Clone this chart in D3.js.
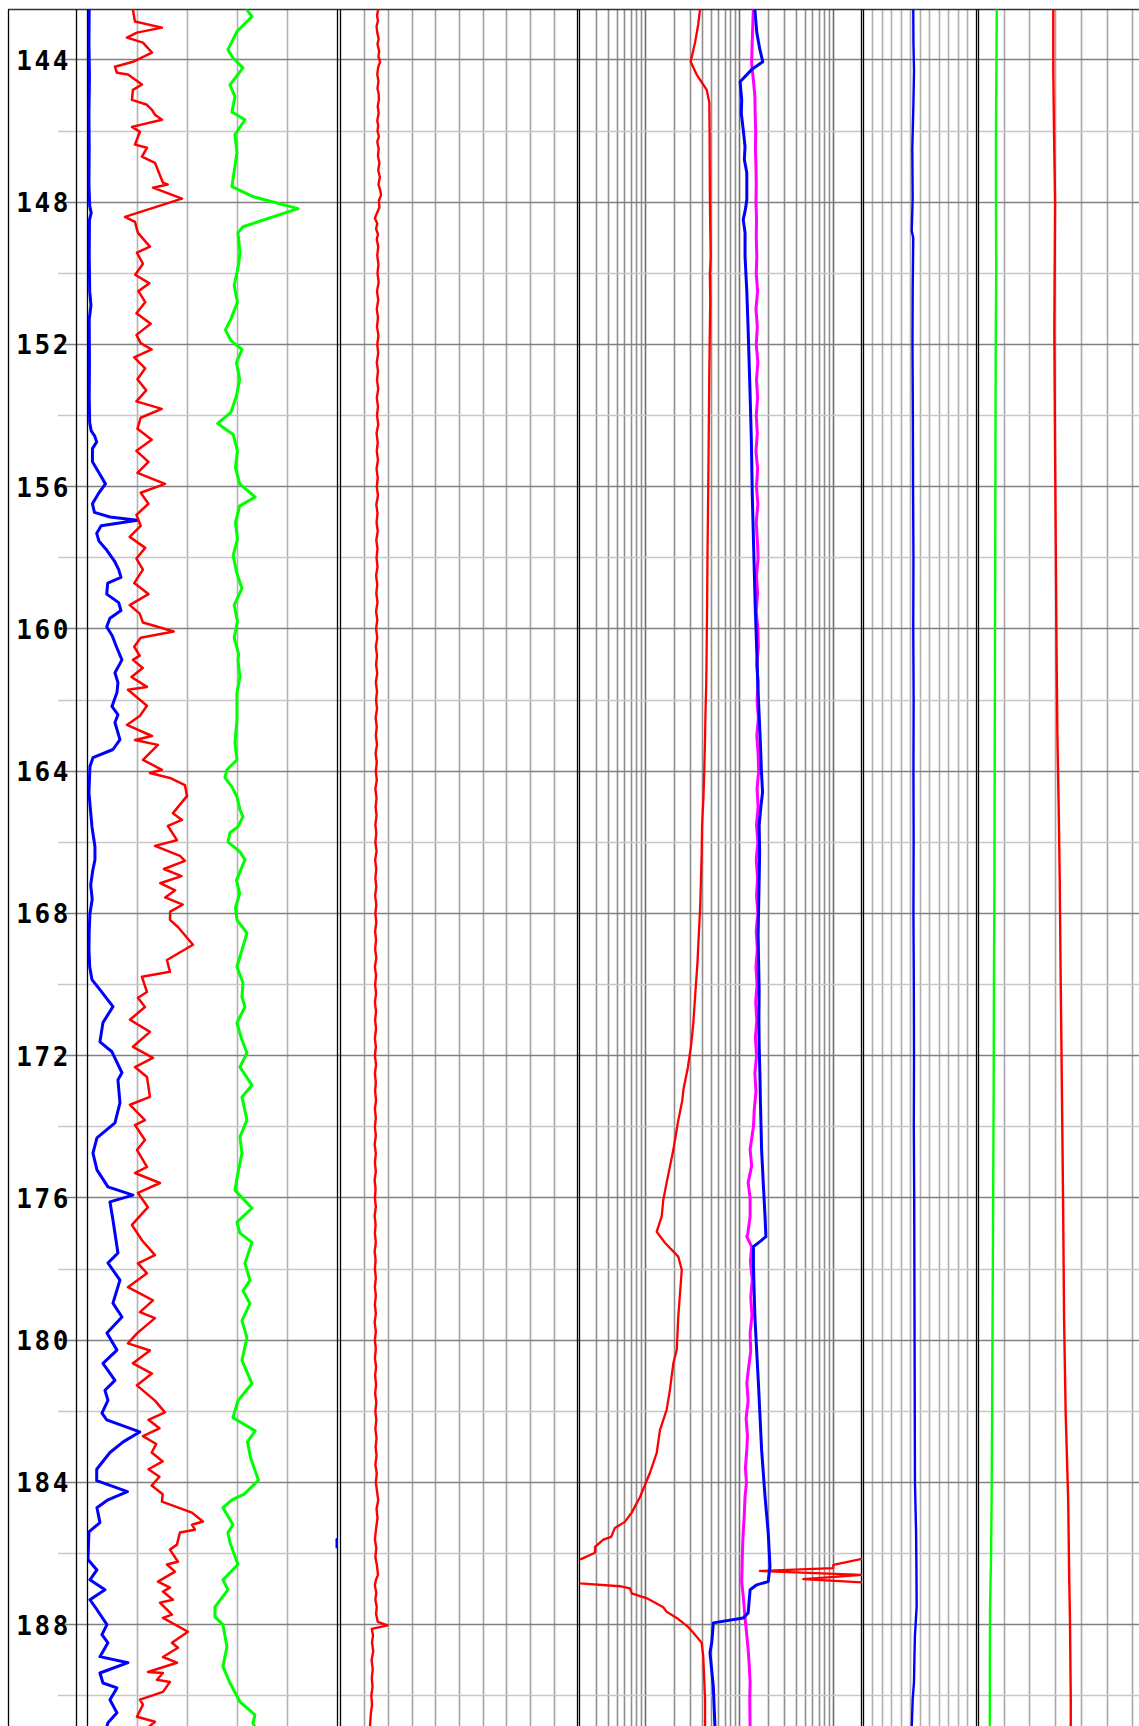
<!DOCTYPE html>
<html><head><meta charset="utf-8">
<script src="https://cdn.jsdelivr.net/npm/d3@7"></script>
<style>html,body{margin:0;padding:0;background:#fff;overflow:hidden}</style>
</head><body>
<svg id="chart" width="1139" height="1726"></svg>
<script>
// ---------------- DATA (depth in m, value in track units) ----------------
const depthRange = [142.58, 190.85];
const depthLabels = [144,148,152,156,160,164,168,172,176,180,184,188];
const minorDepths = [146,150,154,158,162,166,170,174,178,182,186,190];

const t1Ticks = [0,20,40,60,80,100];
const t2Ticks = [0,10,20,30,40,50,60,70,80,90,100];
const t3Ticks = [0.2,0.3,0.4,0.5,0.6,0.7,0.8,0.9,1,2,3,4,5,6,7,8,9,10,20,30,40,50,60,70,80,90,100,200];
const t3Decades = [1,10,100];
const t4Ticks = [0,5,10,15,20,25,30,35,40,45,50,55,60];
const t5Ticks = [0,10,20,30,40,50,60,70,80,90,100];

// Track 1
const t1Blue = [[142.58,0.6],[143.5,0.5],[144.5,0.7],[145.5,0.5],[146.5,0.6],[147.5,0.5],[148.1,0.8],[148.3,1.4],[148.5,0.7],[149.5,0.6],[150.5,0.8],[150.9,1.3],[151.3,0.6],[152.5,0.7],[153.5,0.6],[154.2,0.8],
[154.43,1.4],[154.56,2.7],[154.74,3.6],[154.93,1.9],[155.30,1.9],[155.61,4.5],[155.92,7.1],[156.17,4.5],[156.48,1.9],[156.72,2.7],[156.85,8.9],[156.94,19.9],[157.10,5.4],[157.31,3.6],[157.53,4.5],[157.78,7.6],[158.09,10.7],[158.33,12.4],[158.55,13.3],[158.71,8.0],[159.02,7.6],[159.26,12.4],[159.48,13.3],[159.70,8.9],[159.94,7.6],[160.19,9.8],[160.50,11.5],
[160.87,13.7],[161.23,10.9],[161.51,12.1],[161.79,11.7],[162.18,9.7],[162.41,12.1],[162.63,10.9],[163.11,12.9],[163.39,10.1],[163.62,2.1],[163.87,0.9],[164.60,0.5],[165.56,1.7],[166.12,2.9],[166.49,2.9],[166.8,2.0],[167.2,1.2],[167.6,1.8],[168.0,0.9],[168.5,0.6],[169.0,0.5],[169.5,0.8],[169.86,1.7],[170.2,5.5],
[170.62,10.1],[171.07,6.1],[171.61,4.9],[171.89,9.7],[172.48,13.7],[172.68,12.1],[173.33,12.9],[173.89,10.9],[174.31,3.7],[174.74,2.1],[175.21,3.7],[175.69,8.1],[175.92,18.1],[176.11,8.9],[176.62,10.1],[177.55,12.1],[177.83,8.1],[178.31,12.9],[178.96,10.1],[179.35,13.7],[179.80,7.7],[180.28,11.7],[180.65,6.1],[181.13,10.9],[181.41,6.9],[181.69,8.1],[182.05,5.7],
[182.24,7.6],[182.58,20.8],[182.86,14.2],[183.16,8.9],[183.63,3.6],[183.95,3.6],[184.26,15.9],
[184.49,8.1],[184.71,3.7],[185.13,4.9],[185.39,0.5],[186.17,0.1],[186.46,3.7],[186.74,0.9],[187.02,6.9],[187.30,0.9],[187.58,3.7],[188.00,7.7],[188.28,5.7],[188.51,8.1],[188.90,4.9],[189.07,16.1],[189.36,4.9],[189.64,6.1],[189.78,11.7],[190.11,8.9],[190.48,11.7],[190.76,8.1],[190.9,7.5]];

const t1BlueEdge = [[185.60,99.6],[185.82,99.6]];

const t1Red = [[142.59,18.1],[142.92,18.9],[143.09,29.7],[143.23,19.7],[143.37,15.7],[143.51,22.1],[143.79,25.7],[144.05,18.1],[144.19,10.9],[144.36,11.7],[144.41,16.1],[144.69,21.7],[144.84,18.1],[145.12,17.7],[145.26,23.7],[145.40,25.7],[145.54,26.9],[145.68,29.7],[145.88,17.7],[146.02,20.9],[146.38,18.9],[146.47,23.7],[146.72,21.7],[146.89,26.9],[147.45,30.1],[147.50,32.0],[147.59,26.1],[147.90,37.7],[148.41,14.9],[148.55,18.9],[148.86,20.1],[149.25,24.9],[149.42,19.7],
[149.73,22.1],[150.04,19.0],[150.28,24.7],[150.50,20.3],[150.81,23.0],[151.12,19.5],[151.42,25.2],[151.73,19.5],[151.96,21.2],[152.14,25.6],[152.36,18.6],[152.67,23.0],[152.98,19.9],[153.29,23.4],[153.60,19.5],[153.81,29.6],[154.06,21.2],[154.37,19.9],[154.68,25.6],[154.99,19.5],[155.30,24.3],[155.61,19.9],[155.92,30.9],[156.17,21.2],[156.48,24.3],[156.79,19.5],[157.10,21.2],[157.41,16.8],[157.72,23.0],[158.02,19.5],[158.33,22.1],[158.71,18.6],[159.02,24.3],[159.33,16.8],[159.57,20.8],[159.82,22.1],[160.07,34.4],[160.25,21.2],[160.50,18.6],[160.75,20.8],
[160.87,18.1],[161.1,22.0],[161.35,17.5],[161.63,23.7],[161.71,16.1],[162.16,23.7],[162.44,20.9],[162.70,15.7],[163.01,25.7],[163.12,18.9],[163.26,28.1],[163.68,22.1],[163.96,29.7],[164.05,24.9],[164.19,32.9],[164.39,38.9],[164.70,39.7],[165.18,34.1],[165.37,37.7],[165.54,32.1],[165.94,35.7],[166.10,26.9],[166.38,36.9],[166.52,38.9],
[166.75,30.5],[166.95,37.5],[167.15,29.0],[167.35,35.0],[167.55,31.0],[167.75,38.0],[167.95,33.0],
[168.18,32.9],[168.38,36.1],[168.88,42.1],[169.31,31.7],[169.64,32.9],[169.78,21.7],[170.21,23.7],[170.37,20.1],[170.63,22.9],[170.99,16.9],[171.33,24.9],[171.75,18.1],[172.06,26.1],[172.32,18.9],[172.60,23.7],[173.16,24.9],[173.38,16.9],[173.81,22.9],[173.95,18.9],[174.37,22.9],[174.65,19.7],[175.13,23.7],[175.30,18.9],[175.58,28.9],[175.86,20.1],[176.26,24.1],[176.76,17.7],[177.19,21.7],[177.61,26.9],[177.84,20.1],[178.12,23.7],[178.51,16.1],[178.88,26.1],[179.21,20.9],[179.38,26.9],[179.81,19.7],[180.09,16.1],[180.29,24.9],[180.65,18.1],[180.94,25.7],[181.27,19.7],[181.70,26.9],[182.03,30.9],
[182.24,24.3],[182.48,28.7],[182.70,22.1],[182.92,27.4],[183.16,25.6],[183.41,30.0],[183.63,24.3],[183.84,28.7],[184.09,25.6],[184.33,30.0],
[184.54,29.7],[184.85,41.7],[185.10,46.1],[185.19,41.7],[185.33,42.9],[185.41,36.9],[185.75,35.7],[185.89,32.9],[186.23,36.1],[186.31,31.7],[186.51,34.9],[186.79,28.1],[186.96,32.9],[187.07,30.1],[187.30,34.1],[187.38,28.9],[187.72,33.7],[187.81,30.1],[188.20,40.1],[188.51,33.7],[188.65,36.1],[188.91,30.1],[189.07,35.7],[189.33,24.1],[189.36,30.1],[189.55,27.7],[189.61,32.9],[189.89,30.1],[190.11,20.9],[190.25,22.1],[190.59,19.7],[190.73,26.9],[190.9,24.0]];

const t1Green = [[142.59,63.7],[142.78,65.7],[143.20,59.7],[143.71,56.1],[143.94,58.1],[144.22,62.1],[144.70,56.9],[145.03,58.9],[145.46,57.7],[145.68,62.9],[146.10,58.9],[146.61,59.7],[147.56,57.7],[147.84,66.1],[148.18,84.1],[148.69,62.1],[148.86,60.1],[149.42,60.9],
[149.73,60.4],[150.35,58.6],[150.81,59.9],[151.28,57.3],[151.59,55.1],[151.89,57.3],[152.14,61.7],[152.51,59.5],[152.98,60.8],[153.44,59.5],[153.91,57.3],[154.22,52.0],[154.53,58.2],[154.99,59.9],[155.46,59.1],[155.92,60.8],[156.29,67.0],[156.54,60.8],[157.00,59.1],[157.47,59.9],[157.93,58.2],[158.40,59.5],[158.86,61.7],[159.33,58.6],[159.79,59.9],[160.25,58.6],[160.72,60.4],
[160.87,60.1],[161.35,60.9],[161.79,59.7],[162.55,59.7],[163.20,58.9],[163.68,59.7],[163.96,55.7],[164.18,54.9],[164.44,57.7],[164.72,59.7],[165.08,60.9],[165.28,62.1],[165.56,60.1],[165.73,56.9],[165.99,56.1],[166.27,60.9],[166.49,62.9],
[166.76,61.3],[167.07,59.5],[167.44,60.8],[167.84,59.1],
[168.18,59.7],[168.55,63.7],[169.03,61.7],[169.50,59.7],[169.95,62.1],[170.35,61.7],[170.63,62.9],[171.08,59.7],[171.56,61.7],[171.92,63.7],[172.32,60.9],[172.83,65.7],[173.16,61.7],[173.81,63.7],[174.29,60.9],[174.74,61.7],[175.30,60.1],[175.78,58.9],[176.29,65.7],[176.68,59.7],[176.99,60.9],[177.25,65.7],[177.84,62.9],[178.32,64.9],[178.61,62.1],[178.97,64.9],[179.45,61.7],[179.93,63.7],[180.57,61.7],[181.22,65.7],[181.70,60.1],[182.18,58.1],
[182.55,67.0],[182.86,63.9],[183.32,65.2],[183.94,68.3],[184.33,62.6],
[184.49,57.7],[184.71,54.1],[185.19,58.1],[185.41,56.1],[185.69,56.9],[186.31,60.1],[186.74,54.1],[187.02,56.1],[187.50,50.9],[187.78,50.9],[188.00,54.1],[188.62,55.7],[189.18,54.1],[189.64,56.9],[190.17,60.9],[190.54,66.9],[190.76,66.1],[190.9,67.0]];

// Track 2
const t2Red = [[142.58,15.7],[142.75,15.2],[142.9,15.6],[143.05,15.0],[143.23,15.3],[143.4,15.9],[143.55,15.4],[143.75,16.1],[143.9,15.8],[144.05,16.5],[144.2,15.7],[144.4,15.3],[144.6,15.8],[144.8,15.4],[144.95,15.9],[145.12,16.0],[145.3,15.5],[145.5,15.9],[145.7,15.3],[145.85,15.7],[146.0,15.4],[146.15,16.0],[146.3,15.3],[146.5,15.9],[146.7,15.6],[146.9,16.2],[147.1,15.7],[147.3,16.4],[147.5,15.8],[147.65,16.5],[147.8,16.9],[147.95,16.0],[148.15,16.2],[148.3,15.2],[148.45,14.3],[148.6,15.3],[148.75,14.8],[148.9,15.6],[149.05,15.1],[149.25,15.7],[149.5,15.3],[149.75,15.8],[150.0,15.4],[150.25,15.9],[150.5,15.2],[150.75,15.7],[151.0,15.1],[151.25,15.6],[151.5,15.2],[151.75,15.8],[152.0,15.3],[152.25,15.7],[152.5,15.1],[152.75,15.6],[153.0,15.2],[153.25,15.7],[153.5,15.1],[153.75,15.6],[154.0,15.2],[154.25,15.7],[154.5,15.0],[154.75,15.5],[155.0,15.1],[155.25,15.6],[155.5,15.0],[155.75,15.5],[156.0,15.1],[156.25,15.6],[156.5,14.9],[156.75,15.4],[157.0,15.0],[157.25,15.5],[157.5,14.9],[157.75,15.4],[158.0,15.0],[158.25,15.4],[158.5,14.8],[158.75,15.3],[159.0,14.9],[159.25,15.4],[159.5,14.8],[159.75,15.3],[160.0,14.8],[160.25,15.3],[160.5,14.7],[160.75,15.2],[161.0,14.8],[161.25,15.3],[161.5,14.7],[161.75,15.2],[162.0,14.8],[162.25,15.2],[162.5,14.6],[162.75,15.1],[163.0,14.7],[163.25,15.2],[163.5,14.6],[163.75,15.1],[164.0,14.7],[164.25,15.1],[164.5,14.5],[164.75,15.0],[165.0,14.6],[165.25,15.0],[165.5,14.5],[165.75,14.9],[166.0,14.5],[166.25,15.0],[166.5,14.4],[166.75,14.9],[167.0,14.5],[167.25,14.9],[167.5,14.4],[167.75,14.9],[168.0,14.5],[168.25,14.9],[168.5,14.4],[168.75,14.8],[169.0,14.4],[169.25,14.9],[169.5,14.3],[169.75,14.8],[170.0,14.4],[170.25,14.8],[170.5,14.3],[170.75,14.8],[171.0,14.4],[171.25,14.8],[171.5,14.3],[171.75,14.7],[172.0,14.3],[172.25,14.8],[172.5,14.3],[172.75,14.7],[173.0,14.4],[173.25,14.8],[173.5,14.3],[173.75,14.7],[174.0,14.3],[174.25,14.7],[174.5,14.2],[174.75,14.7],[175.0,14.3],[175.25,14.7],[175.5,14.2],[175.75,14.6],[176.0,14.3],[176.25,14.7],[176.5,14.2],[176.75,14.6],[177.0,14.3],[177.25,14.7],[177.5,14.2],[177.75,14.6],[178.0,14.3],[178.25,14.7],[178.5,14.3],[178.75,14.7],[179.0,14.3],[179.25,14.7],[179.5,14.2],[179.75,14.7],[180.0,14.3],[180.25,14.7],[180.5,14.3],[180.75,14.8],[181.0,14.4],[181.25,14.8],[181.5,14.4],[181.75,14.9],[182.0,14.5],[182.25,14.9],[182.5,14.5],[182.75,15.0],[183.0,14.6],[183.25,15.0],[183.5,14.5],[183.75,15.1],[184.0,14.7],[184.25,15.2],[184.5,15.7],[184.75,15.0],[185.0,15.4],[185.3,14.8],[185.6,14.3],[185.85,14.9],[186.1,14.5],[186.35,15.2],[186.6,15.6],[186.75,14.7],[186.9,14.3],[187.1,14.9],[187.3,14.5],[187.5,15.1],[187.7,14.8],[187.92,15.5],[188.02,19.6],[188.12,13.0],[188.3,13.5],[188.5,13.1],[188.75,13.6],[189.0,12.9],[189.25,13.4],[189.5,13.0],[189.75,13.3],[190.0,12.8],[190.25,13.1],[190.5,12.6],[190.9,12.2]];

// Track 3 (logarithmic)
const t3Red = [[142.58,3.78],[143.0,3.62],[143.51,3.35],[144.05,3.01],[144.41,3.48],[144.84,4.46],[145.2,4.75],[146.0,4.78],[147.0,4.80],[147.93,4.82],[148.7,4.86],[149.53,4.91],[150.04,4.81],[150.8,4.86],[151.59,4.81],[153.0,4.74],[154.68,4.68],[156.2,4.62],[157.78,4.55],[159.3,4.50],[160.87,4.44],[161.6,4.40],[162.42,4.32],[163.2,4.27],[163.97,4.20],[164.7,4.12],[165.52,3.98],[166.3,3.94],[167.07,3.87],[167.8,3.80],[168.61,3.67],[169.4,3.55],[170.16,3.39],[171.09,3.21],[171.71,3.04],[172.33,2.81],[172.95,2.52],[173.26,2.45],[173.88,2.20],[174.64,1.97],[175.12,1.81],[175.57,1.67],[176.05,1.54],[176.52,1.48],[176.95,1.31],[177.26,1.60],[177.65,2.22],[178.02,2.42],[178.67,2.32],[179.34,2.22],[180.27,2.14],[180.64,1.97],[181.40,1.81],[181.96,1.67],[182.52,1.42],[183.17,1.31],[183.73,1.11],[184.41,0.87],[184.85,0.71],[185.11,0.60],[185.28,0.47],[185.53,0.43],[185.61,0.354],[185.81,0.289],[185.98,0.289],[186.15,0.208],[186.30,0.12],[186.60,0.10],[186.84,0.20],[186.92,0.53],[186.98,0.68],[187.12,0.71],[187.26,1.03],[187.51,1.54],[187.64,1.67],[187.81,2.14],[188.07,2.84],[188.23,3.21],[188.51,3.94],[188.91,4.10],[190.11,4.28],[190.9,4.28]];

const t3RedDeep = [[186.05,2000],[186.15,200],[186.32,99],[186.41,99],[186.49,16.4],[186.60,200],[186.72,47.5],[186.81,200],[186.9,2000]];

const t3Blue = [[142.58,14.5],[143.23,15.2],[143.71,16.4],[144.05,17.6],[144.27,13.4],[144.61,10.1],[145.12,10.5],[145.5,10.4],[145.96,10.9],[146.44,11.4],[146.8,11.2],[147.17,11.9],[147.93,11.9],[148.2,11.5],[148.49,10.9],[148.86,11.4],[149.53,11.4],[150.5,11.9],[151.59,12.3],[153.1,12.8],[154.68,13.3],[156.2,13.6],[157.78,14.1],[159.3,14.6],[160.87,15.3],[161.6,15.6],[162.42,16.1],[163.2,16.6],[163.97,17.0],[164.59,17.5],[165.0,16.8],[165.52,16.1],[166.3,16.3],[167.07,16.1],[167.8,15.9],[168.61,15.7],[169.4,15.9],[170.16,16.1],[171.0,16.0],[171.71,16.1],[172.5,16.4],[173.26,16.6],[174.64,17.1],[175.57,17.8],[176.52,18.6],[177.09,19.0],[177.23,16.4],[177.37,14.0],[177.93,14.0],[179.34,14.5],[181.19,15.8],[183.08,17.1],[184.40,18.6],[185.41,20.1],[186.37,21.0],[186.79,20.1],[186.88,15.2],[187.02,12.9],[187.67,12.3],[187.81,10.9],[187.95,5.24],[188.51,5.04],[188.79,4.83],[189.74,5.24],[190.9,5.46]];

const t3Magenta = [[142.58,13.96],[143.2,13.7],[143.71,13.5],[144.1,13.4],[144.5,13.9],[145.0,14.5],[145.5,14.6],[146.0,14.8],[146.5,14.7],[147.0,14.9],[147.5,15.0],[148.0,14.9],[148.5,15.1],[149.0,15.0],[149.53,15.2],[150.0,15.0],[150.5,15.5],[151.0,14.9],[151.5,15.4],[152.0,15.0],[152.5,15.6],[153.0,15.1],[153.5,15.5],[154.0,15.0],[154.5,15.4],[155.0,14.9],[155.5,15.5],[156.0,15.1],[156.5,15.6],[157.0,15.0],[157.5,15.4],[158.0,15.7],[158.5,15.1],[159.0,15.5],[159.5,15.0],[160.0,15.6],[160.5,15.8],[161.0,15.2],[161.5,15.7],[162.0,15.3],[162.5,15.8],[163.0,15.2],[163.5,15.7],[164.0,15.9],[164.5,15.3],[165.0,15.7],[165.5,15.1],[166.0,15.6],[166.5,15.0],[167.0,15.5],[167.5,15.1],[168.0,15.6],[168.5,15.0],[169.0,15.4],[169.5,14.9],[170.0,15.3],[170.5,14.8],[171.0,15.2],[171.5,14.7],[172.0,15.1],[172.5,14.5],[173.0,14.9],[173.5,14.3],[174.0,14.0],[174.64,12.9],[175.1,13.4],[175.57,12.3],[176.0,12.9],[176.52,12.9],[177.0,12.2],[177.09,11.9],[177.37,13.4],[177.8,13.0],[178.3,13.6],[178.8,13.1],[179.3,13.5],[179.8,12.9],[180.3,13.1],[180.8,12.4],[181.2,11.9],[181.7,12.3],[182.2,11.7],[182.7,12.1],[183.08,11.9],[183.6,11.5],[184.0,11.8],[184.4,11.4],[184.9,11.2],[185.4,10.9],[185.9,10.7],[186.4,10.6],[186.8,10.5],[187.2,10.9],[187.8,11.4],[188.3,11.9],[188.7,12.3],[189.1,12.6],[189.6,12.9],[190.1,12.8],[190.9,12.9]];

// Track 4
const t4Blue = [[142.58,26.3],[143.5,26.4],[144.3,26.7],[145.2,26.4],[146.5,25.8],[147.9,26.0],[148.8,25.5],[149.0,26.3],[150.5,26.0],[152.0,25.9],[154.0,26.1],[156.0,26.2],[158.0,26.4],[160.0,26.3],[162.0,26.5],[164.0,26.4],[166.0,26.5],[168.0,26.4],[170.0,26.6],[172.0,26.7],[174.0,26.6],[176.0,26.8],[178.0,26.9],[180.0,27.0],[182.0,27.1],[184.0,27.2],[185.4,27.8],[186.5,28.0],[187.5,28.1],[188.3,27.2],[189.0,26.9],[189.6,26.7],[190.1,26.0],[190.9,25.5]];

// Track 5
const t5Green = [[142.58,7.1],[144.0,7.0],[146.0,6.8],[148.0,6.8],[150.0,6.9],[152.0,6.7],[155.0,6.6],[158.0,6.5],[161.0,6.4],[164.0,6.3],[167.0,6.2],[170.0,6.0],[173.0,5.9],[176.0,5.7],[179.0,5.5],[182.0,5.3],[184.5,5.1],[186.0,4.9],[187.5,4.5],[189.0,4.4],[190.9,4.4]];
const t5Red = [[142.58,29.1],[144.3,29.1],[146.1,29.4],[148.0,29.8],[151.6,29.5],[155.0,29.8],[158.0,30.1],[160.9,30.4],[163.0,30.7],[165.0,31.2],[167.0,31.6],[170.0,32.0],[173.3,32.5],[176.0,32.9],[179.4,33.3],[182.0,33.9],[184.5,34.9],[186.7,35.3],[187.9,35.6],[190.1,35.9],[190.9,35.9]];

// ---------------- LAYOUT ----------------
const W = 1139, H = 1726, TOP = 9.5;
const svg = d3.select('#chart');
const y = d3.scaleLinear().domain(depthRange).range([TOP, H]);
const snap = v => Math.round(v - 0.5) + 0.5;

const tracks = [
  {id:'t1', x0:87.7, x1:337.7, bx0:87.5, bx1:337.5, scale:d3.scaleLinear().domain([0,100]), ticks:t1Ticks, grid:'#b3b3b3'},
  {id:'t2', x0:341, x1:578, bx0:340.5, bx1:577.5, scale:d3.scaleLinear().domain([0,100]), ticks:t2Ticks, grid:'#a3a3a3'},
  {id:'t3', x0:580, x1:862, bx0:579.5, bx1:861.5, scale:d3.scaleLog().domain([0.2,200]), ticks:t3Ticks, grid:'#8f8f8f'},
  {id:'t4', x0:863.5, x1:977, bx0:863.5, bx1:976.5, scale:d3.scaleLinear().domain([0,60]), ticks:t4Ticks, grid:'#b0b0b0'},
  {id:'t5', x0:978.5, x1:1235.5, bx0:978.5, bx1:1235.5, scale:d3.scaleLinear().domain([0,100]), ticks:t5Ticks, grid:'#a8a8a8'}
];
tracks.forEach(t => t.scale.range([t.x0, t.x1]));
const T = Object.fromEntries(tracks.map(t=>[t.id,t]));

const defs = svg.append('defs');
tracks.forEach(t => {
  defs.append('clipPath').attr('id','clip-'+t.id)
    .append('rect').attr('x',t.x0).attr('y',TOP).attr('width',t.x1-t.x0).attr('height',H-TOP);
});

// vertical gridlines
tracks.forEach(t => {
  svg.append('g').selectAll('line').data(t.ticks.filter(v=>{const x=t.scale(v);return x>t.x0+1.5&&x<t.x1-1.5&&x<W;}))
    .join('line')
    .attr('x1',d=>snap(t.scale(d))).attr('x2',d=>snap(t.scale(d)))
    .attr('y1',TOP).attr('y2',H)
    .attr('stroke',d=> (t.id==='t3' && t3Decades.includes(d)) ? '#6e6e6e' : t.grid)
    .attr('stroke-width',1.6);
});

// horizontal gridlines
svg.append('g').selectAll('line').data(minorDepths).join('line')
  .attr('x1',58).attr('x2',W).attr('y1',d=>snap(y(d))).attr('y2',d=>snap(y(d)))
  .attr('stroke','#c8c8c8').attr('stroke-width',1.6);
svg.append('g').selectAll('line').data(depthLabels).join('line')
  .attr('x1',58).attr('x2',W).attr('y1',d=>snap(y(d))).attr('y2',d=>snap(y(d)))
  .attr('stroke','#808080').attr('stroke-width',1.6);

// borders
const bl = svg.append('g').attr('stroke','#000').attr('stroke-width',1.3).attr('fill','none');
bl.append('line').attr('x1',8).attr('x2',W).attr('y1',TOP).attr('y2',TOP).attr('stroke','#333');
[8.5, 76.5].forEach(x => bl.append('line').attr('x1',x).attr('x2',x).attr('y1',TOP).attr('y2',H));
tracks.forEach(t => {
  [t.bx0, t.bx1].forEach(x => { if (x < W) bl.append('line').attr('x1',x).attr('x2',x).attr('y1',TOP).attr('y2',H); });
});

// depth labels
svg.append('g').selectAll('text').data(depthLabels).join('text')
  .attr('x',71).attr('y',d=>y(d)+1).attr('text-anchor','end').attr('dominant-baseline','central')
  .attr('font-family','"DejaVu Sans Mono", monospace').attr('font-weight','bold')
  .attr('font-size',26).attr('letter-spacing','2.6px').attr('fill','#000')
  .text(d=>d);

// curves
function curve(tr, data, color, width){
  const t = T[tr];
  const line = d3.line().x(d=>t.scale(d[1])).y(d=>y(d[0]));
  svg.append('path').datum(data).attr('clip-path','url(#clip-'+tr+')')
    .attr('d',line).attr('fill','none').attr('stroke',color)
    .attr('stroke-width',width).attr('stroke-linejoin','round').attr('stroke-linecap','round');
}
curve('t1', t1Blue, '#0000ff', 3);
curve('t1', t1BlueEdge, '#0000ff', 2.4);
curve('t1', t1Red, '#ff0000', 2.5);
curve('t1', t1Green, '#00ff00', 3);
curve('t2', t2Red, '#ff0000', 2.4);
curve('t3', t3Red, '#ff0000', 2.3);
curve('t3', t3RedDeep, '#ff0000', 2.3);
curve('t3', t3Magenta, '#ff00ff', 3);
curve('t3', t3Blue, '#0000ff', 3);
curve('t4', t4Blue, '#0000ff', 2.4);
curve('t5', t5Green, '#00ff00', 2.4);
curve('t5', t5Red, '#ff0000', 2.4);
</script>
</body></html>
